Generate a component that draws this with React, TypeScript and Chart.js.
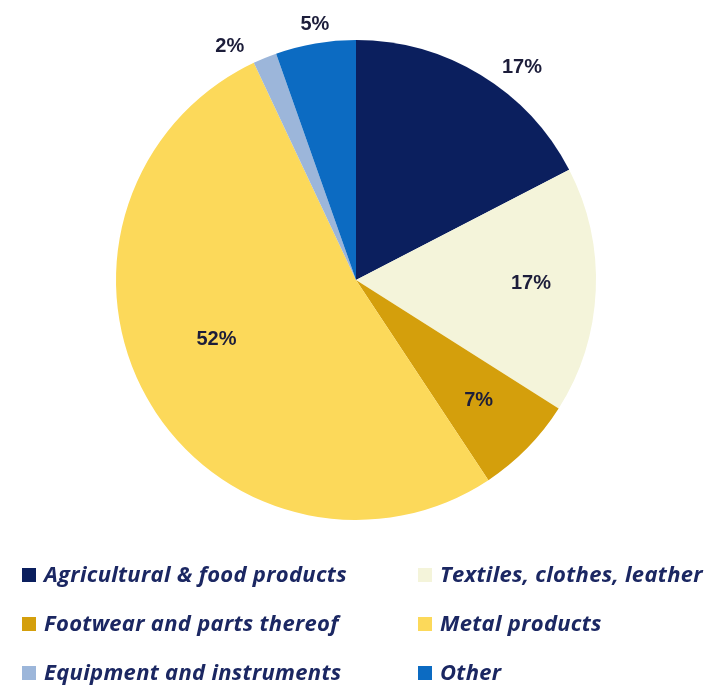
import React, { useEffect, useRef } from "react";
import { Chart, registerables } from "chart.js";

Chart.register(...registerables);

const categories = [
  "Agricultural & food products",
  "Textiles, clothes, leather",
  "Footwear and parts thereof",
  "Metal products",
  "Equipment and instruments",
  "Other",
];
const shares = [17.4, 16.6, 6.7, 52.3, 1.6, 5.4];
const sliceColors = ["#0b1f5e", "#f4f4da", "#d49f0c", "#fcd95a", "#9cb6da", "#0c6bc2"];

// legend order: left column then right column, row by row
const legendOrder = [0, 1, 2, 3, 4, 5];

const labelPlacement = [
  { r: 1.123, da: 6.7 },
  { r: 0.729, da: -1.5 },
  { r: 0.716, da: 0 },
  { r: 0.632, da: 6.3 },
  { r: 1.105, da: -6.1 },
  { r: 1.08, da: 0.6 },
];

const labelPlugin = {
  id: "sliceLabels",
  afterDatasetsDraw(chart: any) {
    const meta = chart.getDatasetMeta(0);
    const data = chart.data.datasets[0].data as number[];
    const ctx = chart.ctx;
    ctx.save();
    ctx.font = 'bold 20px "Liberation Sans", Arial, sans-serif';
    ctx.fillStyle = "#1c1d3a";
    ctx.textAlign = "center";
    ctx.textBaseline = "middle";
    meta.data.forEach((arc: any, i: number) => {
      const p = arc.getProps(["x", "y", "startAngle", "endAngle", "outerRadius"], true);
      const pl = labelPlacement[i] || { r: 0.7, da: 0 };
      const a = (p.startAngle + p.endAngle) / 2 + (pl.da * Math.PI) / 180;
      const r = p.outerRadius * pl.r;
      const tx = p.x + r * Math.cos(a);
      const ty = p.y + r * Math.sin(a);
      ctx.fillText(Math.round(data[i]) + "%", tx, ty);
    });
    ctx.restore();
  },
};

export default function App() {
  const ref = useRef<HTMLCanvasElement | null>(null);

  useEffect(() => {
    if (!ref.current) return;
    const chart = new Chart(ref.current, {
      type: "pie",
      data: {
        labels: categories,
        datasets: [
          {
            data: shares,
            backgroundColor: sliceColors,
            borderWidth: 0,
          },
        ],
      },
      options: {
        responsive: false,
        animation: false,
        layout: { padding: { top: 40, left: 116, right: 108, bottom: 166 } },
        plugins: {
          legend: { display: false },
          tooltip: { enabled: false },
        },
      },
      plugins: [labelPlugin],
    });
    return () => chart.destroy();
  }, []);

  const colX = [22, 418];
  const rowY = [574.5, 623.5, 672.5];

  return (
    <div style={{ position: "fixed", left: 0, top: 0, width: 704, height: 686, background: "#ffffff" }}>
      <canvas ref={ref} width={704} height={686} style={{ position: "absolute", left: 0, top: 0 }} />
      {legendOrder.map((idx, k) => {
        const col = k % 2;
        const row = Math.floor(k / 2);
        return (
          <div
            key={idx}
            style={{
              position: "absolute",
              left: colX[col],
              top: rowY[row] - 15,
              height: 30,
              display: "flex",
              alignItems: "center",
              whiteSpace: "nowrap",
            }}
          >
            <span
              style={{
                display: "inline-block",
                width: 14,
                height: 14,
                background: sliceColors[idx],
              }}
            />
            <span
              style={{
                marginLeft: 8,
                fontFamily: '"Open Sans", sans-serif',
                fontWeight: 700,
                fontStyle: "italic",
                fontSize: 22,
                letterSpacing: "0.3px",
                color: "#1b2762",
                lineHeight: "30px",
                position: "relative",
                top: -2,
              }}
            >
              {categories[idx]}
            </span>
          </div>
        );
      })}
    </div>
  );
}
